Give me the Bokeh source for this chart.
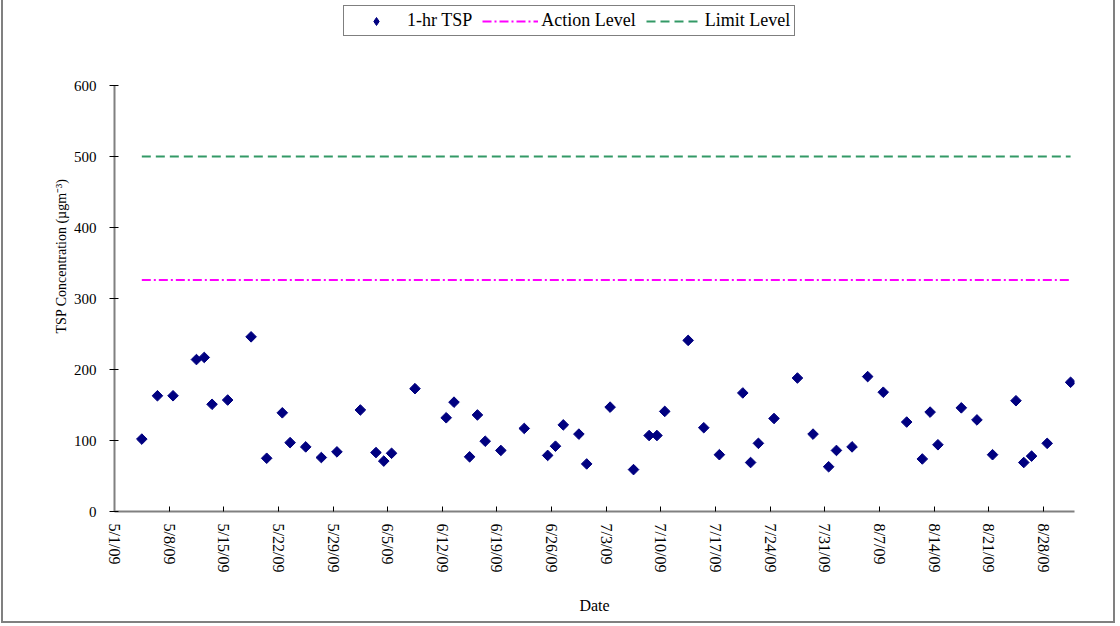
import math
import pandas as pd
from bokeh.plotting import figure
from bokeh.models import Range1d, FixedTicker, Legend, LegendItem
from bokeh.embed import file_html
from bokeh.resources import INLINE

# ---- data ----
dates = [
    "2009-05-04", "2009-05-06", "2009-05-08", "2009-05-11", "2009-05-12", "2009-05-13",
    "2009-05-15", "2009-05-18", "2009-05-20", "2009-05-22", "2009-05-23", "2009-05-25",
    "2009-05-27", "2009-05-29", "2009-06-01", "2009-06-03", "2009-06-04", "2009-06-05",
    "2009-06-08", "2009-06-12", "2009-06-13", "2009-06-15", "2009-06-16", "2009-06-17",
    "2009-06-19", "2009-06-22", "2009-06-25", "2009-06-26", "2009-06-27", "2009-06-29",
    "2009-06-30", "2009-07-03", "2009-07-06", "2009-07-08", "2009-07-09", "2009-07-10",
    "2009-07-13", "2009-07-15", "2009-07-17", "2009-07-20", "2009-07-21", "2009-07-22",
    "2009-07-24", "2009-07-27", "2009-07-29", "2009-07-31", "2009-08-01", "2009-08-03",
    "2009-08-05", "2009-08-07", "2009-08-10", "2009-08-12", "2009-08-13", "2009-08-14",
    "2009-08-17", "2009-08-19", "2009-08-21", "2009-08-24", "2009-08-25", "2009-08-26",
    "2009-08-28", "2009-08-31",
]
tsp = [
    102, 163, 163, 214, 217, 151,
    157, 246, 75, 139, 97, 91,
    76, 84, 143, 83, 71, 82,
    173, 132, 154, 77, 136, 99,
    86, 117, 79, 92, 122, 109,
    67, 147, 59, 107, 107, 141,
    241, 118, 80, 167, 69, 96,
    131, 188, 109, 63, 86, 91,
    190, 168, 126, 74, 140, 94,
    146, 129, 80, 156, 69, 78,
    96, 182,
]
action_level = 326
limit_level = 500

axis_start = "2009-05-01"
axis_end = "2009-09-01"
tick_dates = ["2009-05-01", "2009-05-08", "2009-05-15", "2009-05-22", "2009-05-29",
              "2009-06-05", "2009-06-12", "2009-06-19", "2009-06-26", "2009-07-03",
              "2009-07-10", "2009-07-17", "2009-07-24", "2009-07-31", "2009-08-07",
              "2009-08-14", "2009-08-21", "2009-08-28"]
tick_labels = ["5/1/09", "5/8/09", "5/15/09", "5/22/09", "5/29/09", "6/5/09", "6/12/09",
               "6/19/09", "6/26/09", "7/3/09", "7/10/09", "7/17/09", "7/24/09", "7/31/09",
               "8/7/09", "8/14/09", "8/21/09", "8/28/09"]
y_ticks = [0, 100, 200, 300, 400, 500, 600]
y_min, y_max = 0, 600

# ---- positions on a day axis (points sit mid-day, between tick marks) ----
t0 = pd.Timestamp(axis_start)
def day(d):
    return (pd.Timestamp(d) - t0).days
xs = [day(d) + 0.5 for d in dates]
tick_pos = [day(d) for d in tick_dates]

FONT = "Liberation Serif"
NAVY = "#000080"

# frame spans the full canvas height above the x axis; the y axis is bounded to 0..600
FRAME_H = 511          # px from canvas top to x axis
AXIS_H = 426           # px covered by 0..600
y_top = y_max * FRAME_H / AXIS_H

p = figure(width=1114, height=623, output_backend="svg", toolbar_location=None,
           x_range=Range1d(0, day(axis_end)), y_range=Range1d(y_min, y_top),
           min_border_left=111, min_border_right=43, min_border_top=0,
           min_border_bottom=112)
p.styles = {"margin-left": "1px", "border-left": "2px solid #808080",
            "border-right": "2px solid #808080", "border-bottom": "2px solid #808080"}
p.outline_line_color = None
p.xgrid.visible = False
p.ygrid.visible = False
p.background_fill_color = "white"
p.border_fill_color = "white"

sc = p.scatter(xs, tsp, marker="square", size=7.5, angle=math.pi / 4,
               fill_color=NAVY, line_color=NAVY)
# legend swatch only (hidden on the plot): a diamond, since legend swatches ignore angle
sc_key = p.scatter(xs, tsp, marker="diamond", size=16, fill_color=NAVY, line_color=NAVY,
                   visible=False)
al = p.line([xs[0], xs[-1]], [action_level, action_level], line_color="#FF00FF",
            line_width=2, line_dash="9 3 2 3")
ll = p.line([xs[0], xs[-1]], [limit_level, limit_level], line_color="#339966",
            line_width=2, line_dash="9 5")

# axes
for ax in (p.xaxis[0], p.yaxis[0]):
    ax.axis_line_color = "#808080"
    ax.axis_line_width = 2
    ax.major_tick_line_color = "black"
    ax.major_tick_line_width = 1
    ax.minor_tick_line_color = None
    ax.major_label_text_font = FONT
    ax.major_label_text_font_size = "15px"
    ax.major_label_text_color = "black"
    ax.axis_label_text_font = FONT
    ax.axis_label_text_font_style = "normal"
    ax.axis_label_text_color = "black"

p.xaxis.ticker = FixedTicker(ticks=tick_pos)
p.xaxis.major_label_overrides = {t: lab for t, lab in zip(tick_pos, tick_labels)}
p.xaxis.major_label_orientation = "vertical"
p.xaxis.major_label_text_font_size = "16px"
p.xaxis.major_tick_in = 5
p.xaxis.major_tick_out = 0
p.xaxis.major_label_standoff = 12
p.xaxis.axis_label = "Date"
p.xaxis.axis_label_text_font_size = "16px"
p.xaxis.axis_label_standoff = 22

p.yaxis.ticker = FixedTicker(ticks=y_ticks)
p.yaxis.bounds = (y_min, y_max)
p.yaxis.major_tick_in = 4
p.yaxis.major_tick_out = 5
p.yaxis.major_label_standoff = 13
p.yaxis.axis_label = "TSP Concentration (\u00b5gm\u207b\u00b3)"
p.yaxis.axis_label_text_font_size = "14px"
p.yaxis.axis_label_standoff = 2

legend = Legend(items=[LegendItem(label="1-hr TSP", renderers=[sc_key]),
                       LegendItem(label="Action Level", renderers=[al]),
                       LegendItem(label="Limit Level", renderers=[ll])],
                orientation="horizontal", location=(229, 475))
legend.label_text_font = FONT
legend.label_text_font_size = "18px"
legend.label_text_color = "black"
legend.glyph_width = 56
legend.glyph_height = 20
legend.label_height = 20
legend.label_standoff = 3
legend.spacing = 10
legend.padding = 4
legend.margin = 0
legend.border_line_color = "black"
legend.border_line_width = 1
legend.background_fill_color = "white"
legend.background_fill_alpha = 1
legend.inactive_fill_alpha = 0
p.add_layout(legend, "center")

open("out.html", "w").write(file_html(p, INLINE))
